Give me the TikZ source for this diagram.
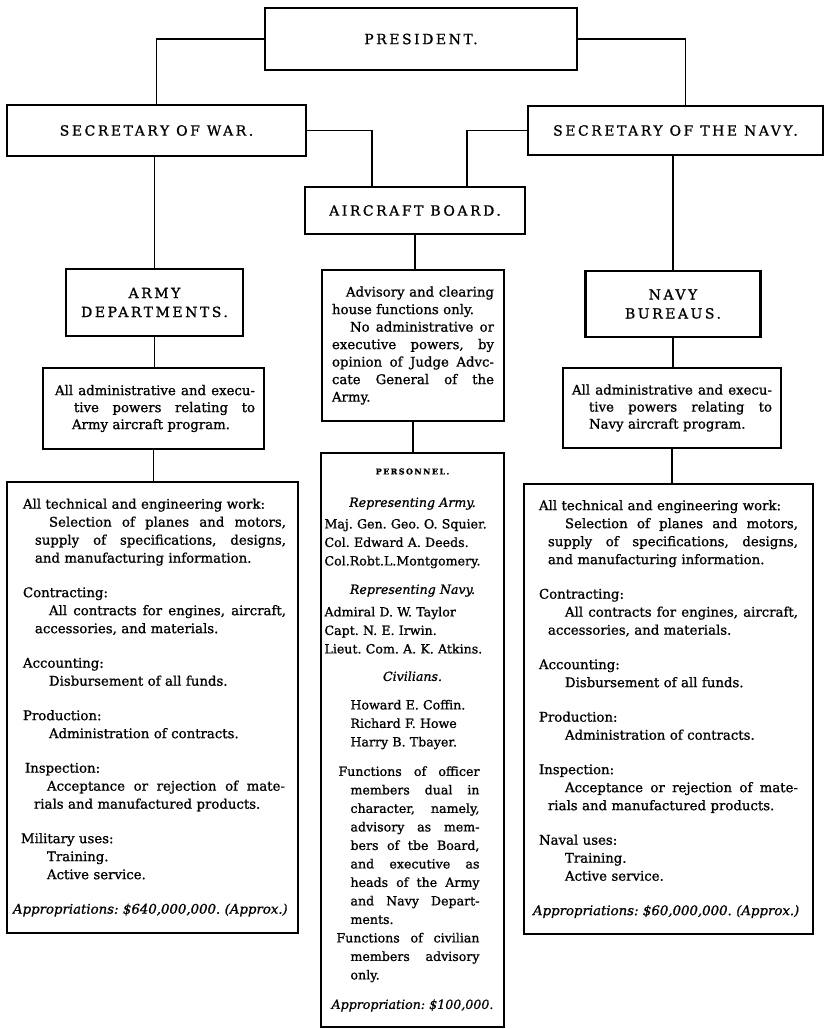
\documentclass[tikz,border=0pt]{standalone}
\usepackage{fontspec}
\setmainfont{DejaVu Serif}[FakeBold=1]
\newfontfamily\capsfont{DejaVu Serif}[LetterSpace=18,FakeBold=1]
\newcommand{\jl}[3]{\hspace*{#1}\makebox[#2][s]{\spaceskip=\fontdimen2\font plus 1fil\relax #3}}
\newcommand{\cl}[1]{\makebox[\linewidth]{#1}}

\begin{document}
\frenchspacing
\begin{tikzpicture}[x=1pt,y=-1pt,
    box/.style={draw,line width=2.3pt,inner sep=0pt},
    title/.style={box,align=center,font=\capsfont\fontsize{14}{19}\selectfont},
    body/.style={box,align=left,font=\fontsize{13.3}{18}\selectfont},
    link/.style={line width=1.8pt}]
  \useasboundingbox (0,0) rectangle (827,1029);
  \node[title,minimum width=312pt,minimum height=62pt] (pres) at (421,39) {PRESIDENT.};
  \node[title,minimum width=299pt,minimum height=51pt] (war) at (156.5,130.5) {SECRETARY OF WAR.};
  \node[title,minimum width=295pt,minimum height=49pt] (navy) at (675.5,130.5) {SECRETARY OF THE NAVY.};
  \node[title,minimum width=220pt,minimum height=47pt] (board) at (415,210.5) {AIRCRAFT BOARD.};
  \node[title,minimum width=177pt,minimum height=67pt] (army) at (154.5,302.5) {ARMY\\DEPARTMENTS.};
  \node[title,minimum width=175pt,minimum height=66pt] (navybur) at (673,304) {NAVY\\BUREAUS.};

  \node[body,font=\fontsize{13.3}{17}\selectfont,text width=203pt,inner xsep=9pt,minimum height=81pt] (armyadm) at (153.5,408.5) {%
    \jl{3pt}{200pt}{All administrative and execu-}\\
    \jl{22pt}{181pt}{tive powers relating to}\\
    \hspace*{20pt}Army aircraft program.};
  \node[body,font=\fontsize{13.3}{17}\selectfont,text width=200pt,inner xsep=9pt,minimum height=80pt] (navyadm) at (672,408) {%
    \jl{0pt}{200pt}{All administrative and execu-}\\
    \jl{17pt}{183pt}{tive powers relating to}\\
    \hspace*{17pt}Navy aircraft program.};
  \node[body,font=\fontsize{13.3}{17.5}\selectfont,text width=162pt,inner xsep=10pt,minimum height=151pt] (advice) at (413,345.5) {%
    \jl{14pt}{148pt}{Advisory and clearing}\\
    house functions only.\\
    \jl{18pt}{144pt}{No administrative or}\\
    \jl{0pt}{162pt}{executive powers, by}\\
    \jl{0pt}{162pt}{opinion of Judge Advc-}\\
    \jl{0pt}{162pt}{cate General of the}\\
    Army.};

  \node[body,text width=267pt,inner xsep=12pt,minimum height=451pt] (armywork) at (152.5,707.5) {%
    \hspace*{4pt}All technical and engineering work:\\
    \jl{30pt}{237pt}{Selection of planes and motors,}\\
    \jl{16pt}{251pt}{supply of specifications, designs,}\\
    \hspace*{16pt}and manufacturing information.\\[16.5pt]
    \hspace*{4pt}Contracting:\\
    \jl{30pt}{237pt}{All contracts for engines, aircraft,}\\
    \hspace*{16pt}accessories, and materials.\\[16.5pt]
    \hspace*{4pt}Accounting:\\
    \hspace*{30pt}Disbursement of all funds.\\[16.5pt]
    \hspace*{4pt}Production:\\
    \hspace*{30pt}Administration of contracts.\\[16.5pt]
    \hspace*{6pt}Inspection:\\
    \jl{28pt}{238pt}{Acceptance or rejection of mate-}\\
    \hspace*{15pt}rials and manufactured products.\\[16.5pt]
    \hspace*{2pt}Military uses:\\
    \hspace*{28pt}Training.\\
    \hspace*{28pt}Active service.\\[16.5pt]
    \hspace*{-6pt}\makebox[0pt][l]{\textit{Appropriations: \$640,000,000. (Approx.)}}};
  \node[body,text width=267pt,inner xsep=11pt,minimum height=450pt] (navywork) at (668.5,709) {%
    \hspace*{4pt}All technical and engineering work:\\
    \jl{30pt}{233pt}{Selection of planes and motors,}\\
    \jl{13pt}{250pt}{supply of specifications, designs,}\\
    \hspace*{13pt}and manufacturing information.\\[16.5pt]
    \hspace*{4pt}Contracting:\\
    \jl{30pt}{233pt}{All contracts for engines, aircraft,}\\
    \hspace*{13pt}accessories, and materials.\\[16.5pt]
    \hspace*{4pt}Accounting:\\
    \hspace*{30pt}Disbursement of all funds.\\[16.5pt]
    \hspace*{4pt}Production:\\
    \hspace*{30pt}Administration of contracts.\\[16.5pt]
    \hspace*{4pt}Inspection:\\
    \jl{30pt}{233pt}{Acceptance or rejection of mate-}\\
    \hspace*{13pt}rials and manufactured products.\\[16.5pt]
    \hspace*{4pt}Naval uses:\\
    \hspace*{30pt}Training.\\
    \hspace*{30pt}Active service.\\[16.5pt]
    \hspace*{-2pt}\makebox[0pt][l]{\textit{Appropriations: \$60,000,000. (Approx.)}}};

  \node[body,font=\fontsize{12.6}{18.5}\selectfont,text width=176pt,inner xsep=3.5pt,minimum height=574pt] (staff) at (412.5,740) {%
    \cl{\capsfont\bfseries\fontsize{8}{10}\selectfont PERSONNEL.}\\[14pt]
    \cl{\textit{Representing Army.}}\\[3pt]
    Maj. Gen. Geo. O. Squier.\\
    Col. Edward A. Deeds.\\
    Col.Robt.L.Montgomery.\\[10pt]
    \cl{\textit{Representing Navy.}}\\[4pt]
    Admiral D. W. Taylor\\
    Capt. N. E. Irwin.\\
    Lieut. Com. A. K. Atkins.\\[9pt]
    \cl{\textit{Civilians.}}\\[10pt]
    \hspace*{26pt}Howard E. Coffin.\\
    \hspace*{26pt}Richard F. Howe\\
    \hspace*{26pt}Harry B. Tbayer.\\[11pt]
    \jl{14pt}{141pt}{Functions of officer}\\
    \jl{26pt}{129pt}{members dual in}\\
    \jl{26pt}{129pt}{character, namely,}\\
    \jl{26pt}{129pt}{advisory as mem-}\\
    \jl{26pt}{129pt}{bers of tbe Board,}\\
    \jl{26pt}{129pt}{and executive as}\\
    \jl{26pt}{129pt}{heads of the Army}\\
    \jl{26pt}{129pt}{and Navy Depart-}\\
    \hspace*{26pt}ments.\\
    \jl{12pt}{143pt}{Functions of civilian}\\
    \jl{26pt}{129pt}{members advisory}\\
    \hspace*{26pt}only.\\[11pt]
    \cl{\textit{Appropriation: \$100,000.}}};

  \draw[link] (pres.west) -| (war.north);
  \draw[link] (pres.east) -| ([xshift=10pt]navy.north);
  \draw[link] (war.east) -| ([xshift=-43pt]board.north);
  \draw[link] (navy.west) -| ([xshift=52pt]board.north);
  \draw[link] (army.north |- war.south) -- (army.north);
  \draw[link] (army.south) -- (army.south |- armyadm.north);
  \draw[link] (armyadm.south) -- (armyadm.south |- armywork.north);
  \draw[link] (navybur.north |- navy.south) -- (navybur.north);
  \draw[link] (navybur.south) -- (navybur.south |- navyadm.north);
  \draw[link] (navyadm.south) -- (navyadm.south |- navywork.north);
  \draw[link] (board.south) -- (board.south |- advice.north);
  \draw[link] (advice.south) -- (advice.south |- staff.north);
\end{tikzpicture}
\end{document}
